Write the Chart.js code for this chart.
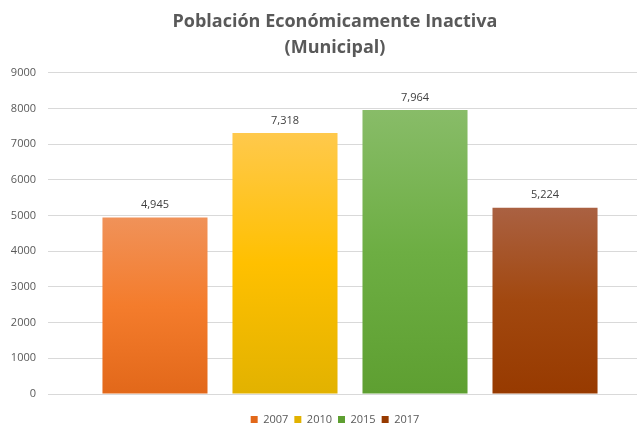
<!DOCTYPE html>
<html>
<head>
<meta charset="utf-8">
<script src="https://cdn.jsdelivr.net/npm/chart.js@4"></script>
<style>
  html, body { margin: 0; padding: 0; background: #fff; overflow: hidden; }
  #wrap { width: 637px; height: 425px; overflow: hidden; position: relative; }
  #box { width: 670px; height: 435px; position: absolute; left: 0; top: 0; }
</style>
</head>
<body>
<div id="wrap"><div id="box"><canvas id="grafico"></canvas></div></div>
<script>
// --- datos ---
const anios = ['2007', '2010', '2015', '2017'];
const valores = [4945, 7318, 7964, 5224];
const yTicks = [0, 1000, 2000, 3000, 4000, 5000, 6000, 7000, 8000, 9000];

// colores de cada barra: arriba, medio, abajo
const colores = [
    ['#F09259', '#F47C2C', '#E2681A'],
    ['#FFC94C', '#FFC000', '#E2B200'],
    ['#88BC68', '#6DAE43', '#5E9F31'],
    ['#AA6142', '#A2480F', '#973A00']
];

const FUENTE = "'Open Sans', 'Liberation Sans', sans-serif";
const GRIS = '#595959';

function degradado(i) {
    return (ctx) => {
        const chart = ctx.chart;
        const area = chart.chartArea;
        if (!area) return colores[i][1];
        const yScale = chart.scales.y;
        const top = yScale.getPixelForValue(valores[i]);
        const base = yScale.getPixelForValue(0);
        const g = chart.ctx.createLinearGradient(0, top, 0, base);
        g.addColorStop(0, colores[i][0]);
        g.addColorStop(0.5, colores[i][1]);
        g.addColorStop(1, colores[i][2]);
        return g;
    };
}

// etiquetas de valor encima de cada barra
const etiquetas = {
    id: 'etiquetas',
    afterDatasetsDraw(chart) {
        const c = chart.ctx;
        c.save();
        c.font = '11px ' + FUENTE;
        c.fillStyle = '#404040';
        c.textAlign = 'center';
        c.textBaseline = 'bottom';
        chart.data.datasets.forEach((ds, i) => {
            const bar = chart.getDatasetMeta(i).data[0];
            c.fillText(ds.data[0].toLocaleString('en-US'), bar.x, bar.y - 7);
        });
        c.restore();
    }
};

// el título y la leyenda van un poco a la derecha del centro del área
const desplazar = {
    id: 'desplazar',
    afterLayout(chart) {
        [chart.titleBlock, chart.legend].forEach(b => {
            if (b) { b.left += 5; b.right += 5; }
        });
    }
};

new Chart(document.getElementById('grafico'), {
    type: 'bar',
    data: {
        labels: [''],
        datasets: anios.map((a, i) => ({
            label: a,
            data: [valores[i]],
            backgroundColor: degradado(i),
            borderWidth: 0
        }))
    },
    options: {
        responsive: true,
        maintainAspectRatio: false,
        animation: false,
        categoryPercentage: 0.861,
        barPercentage: 0.808,
        layout: { padding: { left: 8, right: 18, top: 0, bottom: 0 } },
        plugins: {
            title: {
                display: true,
                text: ['Población Económicamente Inactiva', '(Municipal)'],
                color: GRIS,
                font: { family: FUENTE, size: 18, weight: 'bold', lineHeight: 1.444 },
                padding: { top: 9, bottom: 12 }
            },
            legend: {
                position: 'bottom',
                labels: {
                    boxWidth: 7,
                    boxHeight: 7,
                    padding: 6,
                    color: GRIS,
                    font: { family: FUENTE, size: 11 }
                }
            },
            tooltip: { enabled: false }
        },
        scales: {
            x: {
                ticks: { display: false },
                grid: { display: false },
                border: { display: false },
                afterFit: (axis) => { axis.height = 14; }
            },
            y: {
                min: 0,
                max: 9000,
                afterBuildTicks: (axis) => { axis.ticks = yTicks.map(v => ({ value: v })); },
                afterFit: (axis) => { axis.width = 40; },
                ticks: {
                    color: GRIS,
                    font: { family: FUENTE, size: 11 },
                    padding: 12,
                    callback: (v) => String(v)
                },
                grid: { color: '#D9D9D9', drawTicks: false },
                border: { display: false }
            }
        }
    },
    plugins: [etiquetas, desplazar]
});
</script>
</body>
</html>
